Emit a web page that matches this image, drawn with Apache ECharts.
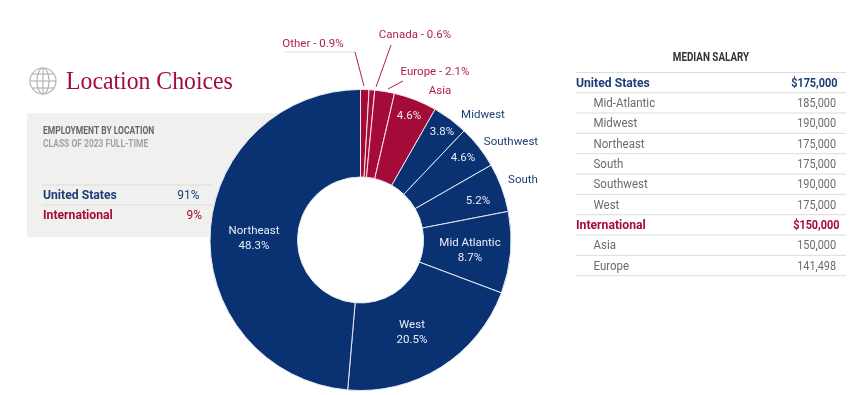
<!DOCTYPE html>
<html lang="en" style="height: 100%">
<head>
    <meta charset="utf-8">
    <script src="https://cdn.jsdelivr.net/npm/echarts@6/dist/echarts.min.js"></script>
</head>
<body style="height: 100%; margin: 0; overflow: hidden; background: #fff">
<div id="container" style="width: 865px; height: 395px"></div>

<script type="text/javascript">
    // pie data, clockwise from 12 o'clock
    var regions = ['Other', 'Canada', 'Europe', 'Asia', 'Midwest', 'Southwest', 'South', 'Mid Atlantic', 'West', 'Northeast'];
    var shares = [0.9, 0.6, 2.1, 4.6, 3.8, 4.6, 5.2, 8.7, 20.5, 48.3];

    // left box
    var summaryNames = ['United States', 'International'];
    var summaryValues = ['91%', '9%'];

    // right table
    var salaryNames = ['United States', 'Mid-Atlantic', 'Midwest', 'Northeast', 'South', 'Southwest', 'West', 'International', 'Asia', 'Europe'];
    var salaryValues = ['$175,000', '185,000', '190,000', '175,000', '175,000', '190,000', '175,000', '$150,000', '150,000', '141,498'];

    var NAVY = '#0a3273';
    var RED = '#a50b38';
    var NAVY_TEXT = '#1c3f78';
    var RED_TEXT = '#b01f48';
    var GREY_TEXT = '#6b6b6b';
    var RULE = '#dcdcdc';
    var FONT = 'Roboto';

    var international = ['Other', 'Canada', 'Europe', 'Asia'];

    // where the text sits around the ring [x, y], and leader lines
    var valueSpots = {
      Asia: [409, 116.5], Midwest: [442, 132.5], Southwest: [463, 158.5], South: [478, 201.5],
      'Mid Atlantic': [470, 251], West: [412, 333], Northeast: [254, 238.5]
    };
    var nameSpots = {
      Other: [313, 44.5], Canada: [415, 35.5], Europe: [435, 72.5], Asia: [440, 91.5],
      Midwest: [483, 115.5], Southwest: [511, 142.5], South: [523, 180.5]
    };
    var leaders = {
      Other: [[355, 52], [355, 52], [364, 86]],
      Canada: [[391, 45], [391, 45], [376, 87]],
      Europe: [[403, 81], [403, 81], [388, 89]]
    };

    function isRed(name) { return international.indexOf(name) >= 0; }

    var sliceData = regions.map(function (name, i) {
      return {
        name: name,
        value: shares[i],
        itemStyle: { color: isRed(name) ? RED : NAVY, borderColor: isRed(name) ? '#f9e3e8' : '#e3e9f2' },
        label: { show: !!valueSpots[name] }
      };
    });

    var outerData = regions.map(function (name, i) {
      return {
        name: name,
        value: shares[i],
        label: { show: !!nameSpots[name], color: isRed(name) ? RED_TEXT : NAVY_TEXT },
        labelLine: { show: !!leaders[name], lineStyle: { color: RED_TEXT, width: 1 } }
      };
    });

    function text(x, y, str, color, opt) {
      opt = opt || {};
      return {
        type: 'text', x: x, y: y, z: opt.z || 1, scaleX: opt.squeeze || 1,
        style: {
          text: str, fill: color, align: opt.align || 'left', verticalAlign: 'middle',
          font: (opt.weight || 'normal') + ' ' + (opt.size || 12.5) + 'px ' + (opt.family || FONT)
        }
      };
    }
    function rule(x1, x2, y, color) {
      return { type: 'line', z: 1, shape: { x1: x1, y1: y, x2: x2, y2: y }, style: { stroke: color || RULE, lineWidth: 1 } };
    }

    var els = [];

    // globe icon
    var ring = { stroke: '#b5b5b5', lineWidth: 1.2, fill: 'none' };
    els.push({ type: 'circle', shape: { cx: 43, cy: 81, r: 13 }, style: ring });
    els.push({ type: 'ellipse', shape: { cx: 43, cy: 81, rx: 6, ry: 13 }, style: ring });
    els.push({ type: 'line', shape: { x1: 43, y1: 68, x2: 43, y2: 94 }, style: ring });
    els.push({ type: 'line', shape: { x1: 30, y1: 81, x2: 56, y2: 81 }, style: ring });
    els.push({ type: 'line', shape: { x1: 32, y1: 74, x2: 54, y2: 74 }, style: ring });
    els.push({ type: 'line', shape: { x1: 32, y1: 88, x2: 54, y2: 88 }, style: ring });
    els.push(text(66, 82, 'Location Choices', RED, { size: 25, squeeze: 0.95, family: '"Liberation Serif", serif' }));

    // left box
    els.push({ type: 'rect', z: 0, shape: { x: 27, y: 113, width: 265, height: 124, r: 2 }, style: { fill: '#f0f0ee' } });
    els.push(text(43, 131.5, 'EMPLOYMENT BY LOCATION', '#666666', { size: 11, weight: 'bold', squeeze: 0.77 }));
    els.push(text(43, 144.5, 'CLASS OF 2023 FULL-TIME', '#a3a3a3', { size: 11, weight: 'bold', squeeze: 0.77 }));
    els.push(rule(42, 213, 185));
    els.push(rule(42, 213, 205));
    summaryNames.forEach(function (name, i) {
      var c = i === 0 ? NAVY_TEXT : RED;
      els.push(text(43, 195.5 + i * 20.5, name, c, { weight: 'bold', size: 12.2 }));
      els.push(text(i === 0 ? 199.5 : 202, 195.5 + i * 20.5, summaryValues[i], c, { align: 'right', size: 13, squeeze: 0.92 }));
    });

    // Other's horizontal leader is grey
    els.push(rule(284, 355, 52, '#dddddd'));

    // right table
    els.push(text(711, 57.5, 'MEDIAN SALARY', '#333333', { size: 12, weight: 'bold', squeeze: 0.82, align: 'center' }));
    els.push(rule(576, 846, 72.5));
    salaryNames.forEach(function (name, i) {
      var y = 83.5 + i * 20.33;
      var head = name === 'United States' || name === 'International';
      var c = name === 'United States' ? NAVY_TEXT : (name === 'International' ? RED : GREY_TEXT);
      var right = name === 'United States' ? 837.5 : (name === 'International' ? 839.5 : 836);
      els.push(text(head ? 576 : 593.5, y, name, c, { weight: head ? 'bold' : 'normal', size: head ? 12.2 : 12.5, squeeze: head ? 1 : 0.92 }));
      els.push(text(right, y, salaryValues[i], c, { weight: head ? 'bold' : 'normal', align: 'right', squeeze: 0.87 }));
      els.push(rule(576, 846, y + 9.2));
    });

    var dom = document.getElementById('container');
    var myChart = echarts.init(dom, null, { renderer: 'canvas' });

    var option = {
      animation: false,
      backgroundColor: '#fff',
      graphic: { elements: els },
      series: [
        {
          type: 'pie',
          name: 'share',
          center: [360.5, 240],
          radius: [63, 150.5],
          startAngle: 90,
          clockwise: true,
          silent: true,
          avoidLabelOverlap: false,
          itemStyle: { borderWidth: 1 },
          label: {
            position: 'inside',
            color: '#e8edf5',
            fontFamily: FONT,
            fontSize: 11.5,
            lineHeight: 15,
            align: 'center',
            formatter: function (p) {
              var big = p.name === 'Mid Atlantic' || p.name === 'West' || p.name === 'Northeast';
              return big ? p.name + '\n' + p.value + '%' : p.value + '%';
            }
          },
          labelLine: { show: false },
          labelLayout: function (p) {
            var s = valueSpots[regions[p.dataIndex]];
            return s ? { x: s[0], y: s[1], align: 'center', verticalAlign: 'middle' } : {};
          },
          data: sliceData
        },
        {
          // same slices, invisible, only carries the names around the ring
          type: 'pie',
          name: 'names',
          center: [360.5, 240],
          radius: [63, 150.5],
          startAngle: 90,
          clockwise: true,
          silent: true,
          avoidLabelOverlap: false,
          minShowLabelAngle: 0,
          itemStyle: { color: 'transparent' },
          label: {
            position: 'outside',
            fontFamily: FONT,
            fontSize: 11.5,
            formatter: function (p) {
              return leaders[p.name] ? p.name + ' - ' + p.value + '%' : p.name;
            }
          },
          labelLayout: function (p) {
            var name = regions[p.dataIndex];
            var s = nameSpots[name];
            if (!s) return {};
            var out = { x: s[0], y: s[1], align: 'center', verticalAlign: 'middle' };
            if (leaders[name]) out.labelLinePoints = leaders[name];
            return out;
          },
          data: outerData
        }
      ]
    };

    myChart.setOption(option);
    window.addEventListener('resize', myChart.resize);
</script>
</body>
</html>
